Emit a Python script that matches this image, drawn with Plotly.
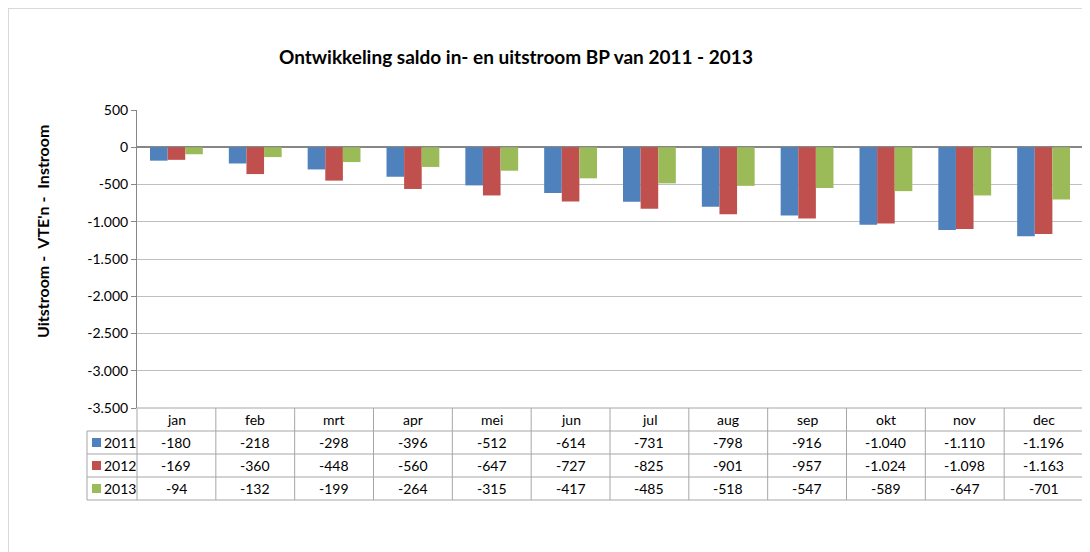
import plotly.graph_objects as go

months = ["jan", "feb", "mrt", "apr", "mei", "jun", "jul", "aug", "sep", "okt", "nov", "dec"]
v2011 = [-180, -218, -298, -396, -512, -614, -731, -798, -916, -1040, -1110, -1196]
v2012 = [-169, -360, -448, -560, -647, -727, -825, -901, -957, -1024, -1098, -1163]
v2013 = [-94, -132, -199, -264, -315, -417, -485, -518, -547, -589, -647, -701]
series_names = ["2011", "2012", "2013"]
series_values = [v2011, v2012, v2013]
colors = ["#4F81BD", "#C0504D", "#9BBB59"]
y_ticks = [500, 0, -500, -1000, -1500, -2000, -2500, -3000, -3500]

title = "Ontwikkeling saldo in- en uitstroom BP van 2011 - 2013"
ytitle = "Uitstroom -  VTE'n -  Instroom"

OFF = 8  # page body margin
W, H = 1090 - OFF, 552 - OFF
# plot area in page pixel coordinates
PL, PR, PT, PB = 137, 1083, 110, 408
L, R, T, B = PL - OFF, PR - OFF, PT - OFF, PB - OFF
FONT = "Lato"
GRID = "#BFBFBF"
LINE = "#868686"
TBL = "#A6A6A6"


def fmt(v):
    s = f"{abs(v):,}".replace(",", ".")
    return ("-" if v < 0 else "") + s


def px(x):  # page pixel x -> paper
    return (x - OFF - L) / (R - L)


def py(y):  # page pixel y -> paper
    return (B - (y - OFF)) / (B - T)


fig = go.Figure()
for name, vals, col in zip(series_names, series_values, colors):
    fig.add_trace(go.Bar(x=months, y=vals, name=name, marker_color=col,
                         marker_line_width=0, showlegend=False))

shapes = []
annotations = []

# table grid (page pixels)
row_y = [408, 431, 454, 477, 500]
col_x = [PL + i * (PR - PL) / 12 for i in range(13)]
shapes.append(dict(type="line", xref="paper", yref="paper", x0=px(PL), x1=px(PR),
                   y0=py(row_y[0]), y1=py(row_y[0]), line=dict(color=TBL, width=1)))
for yy in row_y[1:]:
    shapes.append(dict(type="line", xref="paper", yref="paper", x0=px(87), x1=px(PR),
                       y0=py(yy), y1=py(yy), line=dict(color=TBL, width=1)))
for xx in col_x:
    shapes.append(dict(type="line", xref="paper", yref="paper", x0=px(xx), x1=px(xx),
                       y0=py(row_y[0]), y1=py(row_y[-1]), line=dict(color=TBL, width=1)))
shapes.append(dict(type="line", xref="paper", yref="paper", x0=px(87), x1=px(87),
                   y0=py(row_y[1]), y1=py(row_y[-1]), line=dict(color=TBL, width=1)))

TF = dict(family=FONT, size=14, color="#000")
for m in months:
    annotations.append(dict(x=m, xref="x", y=py((row_y[0] + row_y[1]) / 2), yref="paper",
                            text=m, showarrow=False, font=TF,
                            xanchor="center", yanchor="middle"))
for i, (name, vals, col) in enumerate(zip(series_names, series_values, colors)):
    yc = (row_y[i + 1] + row_y[i + 2]) / 2
    shapes.append(dict(type="rect", xref="paper", yref="paper", x0=px(92), x1=px(101),
                       y0=py(yc - 4.5), y1=py(yc + 4.5), fillcolor=col, line=dict(width=0)))
    annotations.append(dict(x=px(102), xref="paper", y=py(yc), yref="paper", text=name,
                            showarrow=False, font=TF, xanchor="left", yanchor="middle"))
    for m, v in zip(months, vals):
        annotations.append(dict(x=m, xref="x", y=py(yc), yref="paper", text=fmt(v),
                                showarrow=False, font=TF,
                                xanchor="center", yanchor="middle"))

# outer chart border
shapes.append(dict(type="line", xref="paper", yref="paper", x0=px(8.5), x1=px(8.5),
                   y0=py(8), y1=py(560), line=dict(color="#D9D9D9", width=1)))
shapes.append(dict(type="line", xref="paper", yref="paper", x0=px(8), x1=px(1100),
                   y0=py(8.5), y1=py(8.5), line=dict(color="#D9D9D9", width=1)))

annotations.append(dict(x=px(516), xref="paper", y=py(57), yref="paper", text="<b>" + title + "</b>",
                        showarrow=False, font=dict(family=FONT, size=19, color="#000"),
                        xanchor="center", yanchor="middle"))
annotations.append(dict(x=px(42), xref="paper", y=py(232), yref="paper", text="<b>" + ytitle + "</b>",
                        showarrow=False, textangle=-90, font=dict(family=FONT, size=16, color="#000"),
                        xanchor="center", yanchor="middle"))

fig.update_layout(
    width=W, height=H,
    margin=dict(l=L, r=W - R, t=T, b=H - B, pad=0),
    paper_bgcolor="white", plot_bgcolor="white",
    barmode="group", bargap=0.33, bargroupgap=0,
    shapes=shapes, annotations=annotations,
    xaxis=dict(showticklabels=False, showgrid=False, zeroline=False, showline=False,
               ticks=""),
    yaxis=dict(range=[-3500, 500], tickvals=y_ticks, ticktext=[fmt(v) for v in y_ticks],
               showgrid=True, gridcolor=GRID, gridwidth=1,
               zeroline=True, zerolinecolor=LINE, zerolinewidth=1.5,
               showline=True, linecolor=LINE, linewidth=1,
               ticks="outside", ticklen=5, tickcolor=LINE,
               tickfont=dict(family=FONT, size=14, color="#000")),
    font=dict(family=FONT),
)

fig.write_html("out.html")
